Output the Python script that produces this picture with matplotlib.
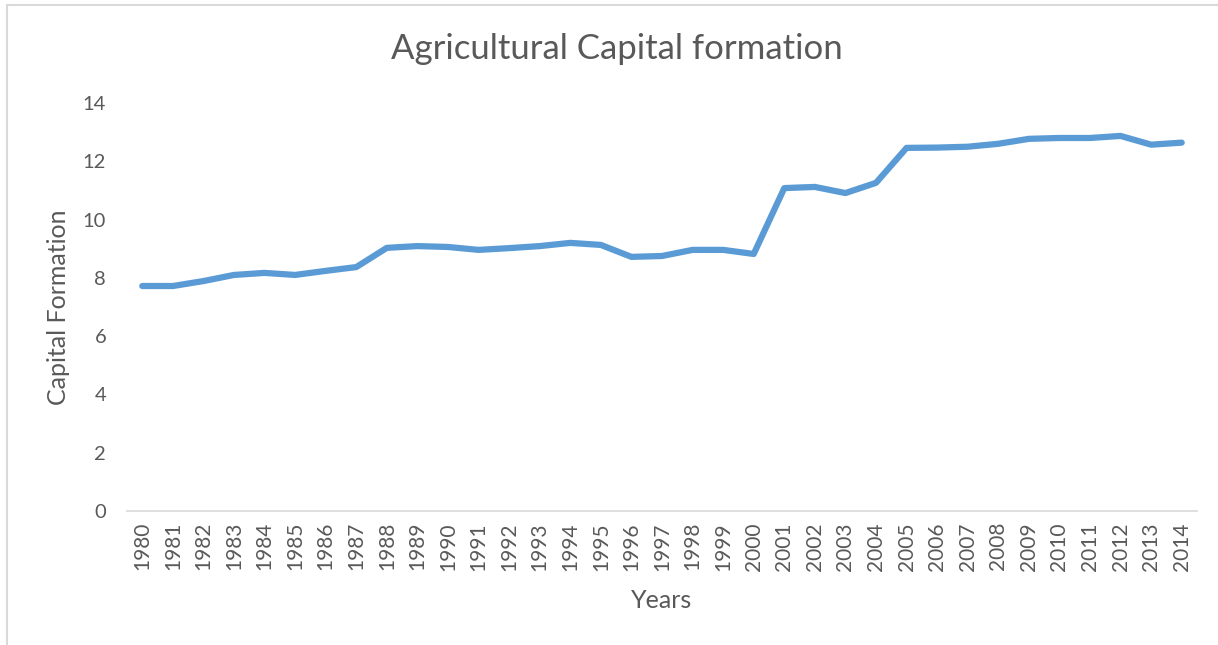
import matplotlib
matplotlib.use("Agg")
import matplotlib.pyplot as plt
from matplotlib.lines import Line2D

years = [str(y) for y in range(1980, 2015)]
capital_formation = [7.72, 7.72, 7.89, 8.10, 8.17, 8.10, 8.24, 8.37, 9.03, 9.09,
                     9.06, 8.96, 9.02, 9.09, 9.20, 9.13, 8.72, 8.75, 8.96, 8.96,
                     8.82, 11.08, 11.12, 10.91, 11.26, 12.46, 12.47, 12.50, 12.60, 12.77,
                     12.80, 12.80, 12.87, 12.57, 12.64]
yticks = [0, 2, 4, 6, 8, 10, 12, 14]

plt.rcParams['font.family'] = ['Lato', 'DejaVu Sans']
W, H = 1218, 645
fig = plt.figure(figsize=(W / 100, H / 100), dpi=100)
ax = fig.add_axes([127 / W, 1 - 511 / H, (1197 - 127) / W, (511 - 103) / H])

x = list(range(len(years)))
ax.plot(x, capital_formation, color='#5B9BD5', linewidth=4.5, solid_capstyle='round',
        solid_joinstyle='round')
ax.set_xlim(-0.5, len(years) - 0.5)
ax.set_ylim(0, 14)
ax.set_yticks(yticks)
ax.set_yticklabels([str(v) for v in yticks])
ax.set_xticks(x)
ax.set_xticklabels(years, rotation=90)

text_color = '#595959'
ax.tick_params(axis='y', length=0, labelsize=14.5, labelcolor=text_color, pad=15)
ax.tick_params(axis='x', length=0, labelsize=15, labelcolor=text_color, pad=8)
for s in ['top', 'right', 'left']:
    ax.spines[s].set_visible(False)
ax.spines['bottom'].set_color('#D9D9D9')
ax.spines['bottom'].set_linewidth(1.2)

ax.set_xlabel('Years', fontsize=18, color=text_color, labelpad=13)
ax.set_ylabel('Capital Formation', fontsize=18, color=text_color, labelpad=9)
fig.text(617 / W, 1 - 49 / H, 'Agricultural Capital formation', fontsize=25,
         color=text_color, ha='center', va='center')

# chart frame (left and top edges visible)
fig.add_artist(Line2D([7 / W, 7 / W], [0, 1 - 5 / H], transform=fig.transFigure,
                      color='#D9D9D9', linewidth=1.5))
fig.add_artist(Line2D([7 / W, 1], [1 - 5 / H, 1 - 5 / H], transform=fig.transFigure,
                      color='#D9D9D9', linewidth=1.5))

fig.savefig('out.png', dpi=100)
